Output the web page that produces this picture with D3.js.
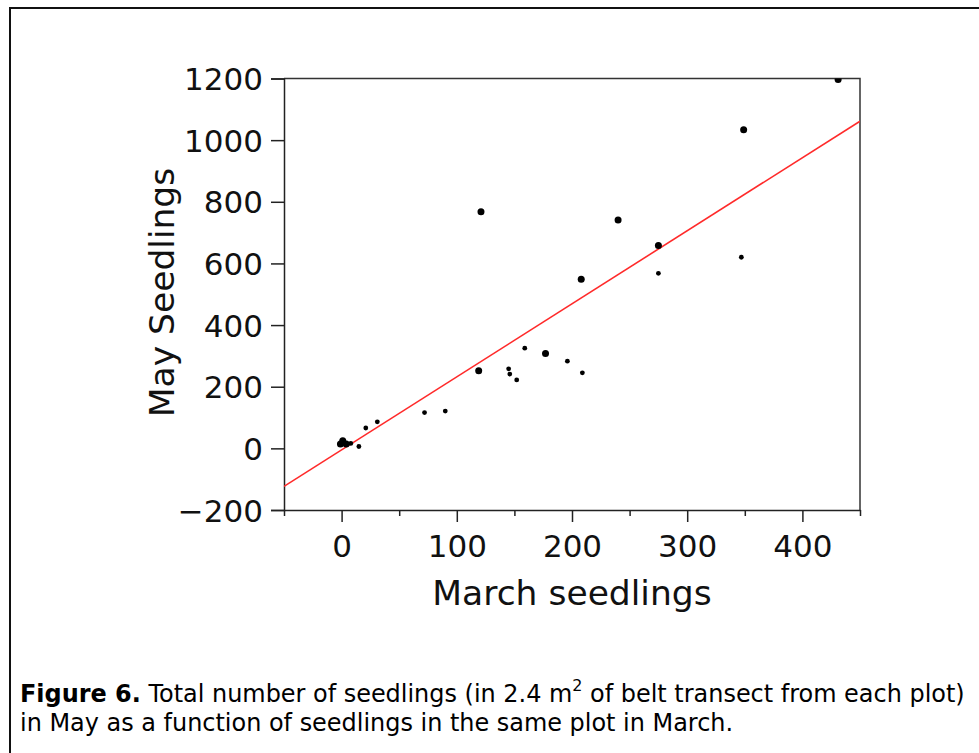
<!DOCTYPE html>
<html>
<head>
<meta charset="utf-8">
<script src="https://cdn.jsdelivr.net/npm/d3@7"></script>
<style>
  html, body { margin: 0; padding: 0; background: #fff; }
  svg { display: block; }
</style>
</head>
<body>
<svg id="chart" width="979" height="753"></svg>
<script>
// ---- data ----
const xTicks = [0, 100, 200, 300, 400];
const xMinorTicks = [-50, 50, 150, 250, 350, 450];
const yTicks = [-200, 0, 200, 400, 600, 800, 1000, 1200];

const bigMarch = [-1, 1, 4, 119, 121, 177, 208, 240, 275, 349, 431];
const bigMay   = [14, 25, 14, 252, 768, 308, 549, 741, 658, 1034, 1197];

const smallMarch = [8, 15, 21, 31, 72, 90, 145, 146, 152, 159, 196, 209, 275, 347];
const smallMay   = [16, 6, 66, 86, 116, 121, 258, 241, 222, 325, 283, 245, 568, 620];

const fitIntercept = -5;
const fitSlope = 2.37;
const fitRange = [-50, 450];

const xTitle = "March seedlings";
const yTitle = "May Seedlings";
const captionBold = "Figure 6.";
const captionLine1a = " Total number of seedlings (in 2.4 m";
const captionSup = "2";
const captionLine1b = " of belt transect from each plot)";
const captionLine2 = "in May as a function of seedlings in the same plot in March.";

// ---- layout ----
const svg = d3.select("#chart");
const L = 284, R = 860, T = 78.5, B = 510;
const x = d3.scaleLinear().domain([-50, 450]).range([L, R]);
const y = d3.scaleLinear().domain([-200, 1200]).range([B, T]);
const axisFont = "'DejaVu Sans', Verdana, sans-serif";

// outer border (top & left visible)
svg.append("path")
  .attr("d", `M10,760 L10,8 L990,8`)
  .attr("fill", "none").attr("stroke", "#111").attr("stroke-width", 2);

svg.append("defs").append("clipPath").attr("id", "plotclip")
  .append("rect").attr("x", L).attr("y", T).attr("width", R - L).attr("height", B - T);

// frame top & right
svg.append("path")
  .attr("d", `M${L},${T} L${R},${T} L${R},${B}`)
  .attr("fill", "none").attr("stroke", "#333").attr("stroke-width", 1.5);

// y axis
const yAxis = d3.axisLeft(y).tickValues(yTicks).tickSize(13).tickPadding(8).tickFormat(d => d < 0 ? "\u2212" + Math.abs(d) : d);
const gy = svg.append("g").attr("transform", `translate(${L},0)`).call(yAxis);
gy.select(".domain").attr("stroke", "#222").attr("stroke-width", 1.5);
gy.selectAll(".tick line").attr("stroke", "#222").attr("stroke-width", 1.5);
gy.selectAll(".tick text").attr("font-family", axisFont).attr("font-size", 31).attr("fill", "#111").attr("dy", "0.36em");

// x axis
const xAxis = d3.axisBottom(x).tickValues(xTicks).tickSize(12).tickPadding(13).tickSizeOuter(0);
const gx = svg.append("g").attr("transform", `translate(0,${B})`).call(xAxis);
gx.select(".domain").attr("stroke", "#222").attr("stroke-width", 1.5);
gx.selectAll(".tick line").attr("stroke", "#222").attr("stroke-width", 1.5);
gx.selectAll(".tick text").attr("font-family", axisFont).attr("font-size", 31).attr("fill", "#111");

const xMinor = d3.axisBottom(x).tickValues(xMinorTicks).tickSize(6).tickFormat("").tickSizeOuter(0);
const gxm = svg.append("g").attr("transform", `translate(0,${B})`).call(xMinor);
gxm.select(".domain").remove();
gxm.selectAll(".tick line").attr("stroke", "#222").attr("stroke-width", 1.5);

// axis titles
svg.append("text").attr("x", 572).attr("y", 605)
  .attr("text-anchor", "middle").attr("font-family", axisFont).attr("font-size", 34.5).attr("fill", "#111")
  .text(xTitle);
svg.append("text").attr("transform", `translate(174,${292.5}) rotate(-90)`)
  .attr("text-anchor", "middle").attr("font-family", axisFont).attr("font-size", 34.5).attr("fill", "#111")
  .text(yTitle);

// plot content
const plot = svg.append("g").attr("clip-path", "url(#plotclip)");
plot.append("line")
  .attr("x1", x(fitRange[0])).attr("y1", y(fitIntercept + fitSlope * fitRange[0]))
  .attr("x2", x(fitRange[1])).attr("y2", y(fitIntercept + fitSlope * fitRange[1]))
  .attr("stroke", "#ff2a2a").attr("stroke-width", 1.6);

plot.selectAll("circle.small").data(smallMarch).enter().append("circle")
  .attr("class", "small")
  .attr("cx", d => x(d)).attr("cy", (d, i) => y(smallMay[i])).attr("r", 2.4).attr("fill", "#000");
plot.selectAll("circle.big").data(bigMarch).enter().append("circle")
  .attr("class", "big")
  .attr("cx", d => x(d)).attr("cy", (d, i) => y(bigMay[i])).attr("r", 3.5).attr("fill", "#000");

// caption
const capFont = "'DejaVu Sans', Verdana, sans-serif";
const capSize = 21;
const cap1 = svg.append("text").attr("x", 20).attr("y", 702)
  .attr("font-family", capFont).attr("font-size", capSize).attr("fill", "#000");
cap1.append("tspan").attr("font-weight", "bold").text(captionBold);
cap1.append("tspan").text(captionLine1a);
const sup = cap1.append("tspan").attr("font-size", 14).attr("dy", -11).text(captionSup);
cap1.append("tspan").attr("dy", 11).text(captionLine1b);
const cap2 = svg.append("text").attr("x", 20).attr("y", 731)
  .attr("font-family", capFont).attr("font-size", capSize).attr("fill", "#000")
  .text(captionLine2);

// fit caption width to the reference line length (~945px)
const w1 = cap1.node().getComputedTextLength();
const k = 945 / w1;
cap1.attr("font-size", capSize * k);
cap2.attr("font-size", capSize * k);
sup.attr("font-size", 14 * k);
</script>
</body>
</html>
